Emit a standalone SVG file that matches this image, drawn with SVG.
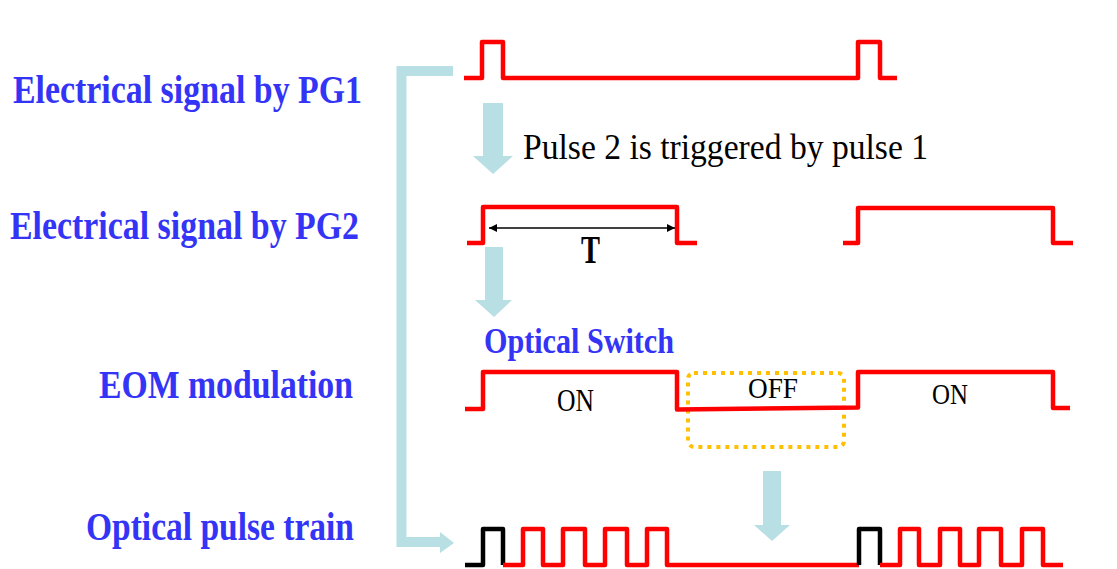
<svg xmlns="http://www.w3.org/2000/svg" width="1117" height="569" viewBox="0 0 1117 569">
<style>
.lbl{font-family:"Liberation Serif","Times New Roman",serif;font-weight:bold;fill:#3434f6;font-size:39px}
.txt{font-family:"Liberation Serif","Times New Roman",serif;fill:#000}
.sig{fill:none;stroke:#ff0000;stroke-width:4.5;stroke-linejoin:round;stroke-linecap:butt}
.blk{fill:none;stroke:#000;stroke-width:4.5;stroke-linejoin:round}
.flow{fill:#b8dfe3}
</style>
<defs>
<marker id="ah" viewBox="0 0 10 10" refX="10" refY="5" markerWidth="10" markerHeight="8" markerUnits="userSpaceOnUse" orient="auto-start-reverse">
<path d="M0,0 L10,5 L0,10 Z" fill="#000"/>
</marker>
</defs>
<rect width="1117" height="569" fill="#fff"/>

<g id="label-pg1"><text class="lbl" x="13" y="103" textLength="349" lengthAdjust="spacingAndGlyphs">Electrical signal by PG1</text></g>
<g id="label-pg2"><text class="lbl" x="10" y="239" textLength="349" lengthAdjust="spacingAndGlyphs">Electrical signal by PG2</text></g>
<g id="label-eom"><text class="lbl" x="99" y="398" textLength="254" lengthAdjust="spacingAndGlyphs">EOM modulation</text></g>
<g id="label-optical"><text class="lbl" x="86" y="540" textLength="268" lengthAdjust="spacingAndGlyphs">Optical pulse train</text></g>

<g id="pg1-signal">
<path class="sig" d="M464,78 H482 V42 H503 V78 H858 V42 H880 V78 H897"/>
</g>
<g id="trigger-note">
<text class="txt" x="523" y="159" font-size="36" textLength="405" lengthAdjust="spacingAndGlyphs">Pulse 2 is triggered by pulse 1</text>
</g>

<g id="pg2-signal">
<path class="sig" d="M467,243 H483 V207 H677 V243 H697"/>
<path class="sig" d="M843,243 H858 V208 H1053 V243 H1073"/>
<line x1="489" y1="228" x2="675" y2="228" stroke="#000" stroke-width="1.6" marker-start="url(#ah)" marker-end="url(#ah)"/>
<text class="txt" x="581" y="263" font-size="39" font-weight="bold" textLength="19" lengthAdjust="spacingAndGlyphs">T</text>
</g>

<g id="eom-signal">
<text class="lbl" x="484" y="353" style="font-size:35px" textLength="190" lengthAdjust="spacingAndGlyphs">Optical Switch</text>
<rect x="688" y="373" width="156" height="74" rx="6" fill="none" stroke="#ffc000" stroke-width="4" stroke-dasharray="4 5"/>
<path class="sig" d="M465,409 H483 V372 H677 V409.5 L858,407.5 V372 H1053 V408 H1070"/>
<text class="txt" x="557" y="411" font-size="31" textLength="37" lengthAdjust="spacingAndGlyphs">ON</text>
<text class="txt" x="748" y="398" font-size="30" textLength="50" lengthAdjust="spacingAndGlyphs">OFF</text>
<text class="txt" x="932" y="404" font-size="29" textLength="36" lengthAdjust="spacingAndGlyphs">ON</text>
</g>

<g id="pulse-train">
<path class="blk" d="M465,565 H483 V529 H503 V565"/>
<path class="sig" d="M503,565 H523 V529 H543 V565 H563 V529 H585 V565 H605 V529 H627 V565 H647 V529 H667 V565 H859"/>
<path class="blk" d="M859,565 V529 H880 V565"/>
<path class="sig" d="M880,565 H900 V529 H919 V565 H940 V529 H960 V565 H979 V529 H1001 V565 H1022 V529 H1043 V565 H1063"/>
</g>

<g id="connectors">
<polyline points="453,71 401.5,71 401.5,542 441,542" fill="none" stroke="#b8dfe3" stroke-width="10"/>
<polygon class="flow" points="440,532 454,543 440,553"/>
<polygon class="flow" points="483,103 503,103 503,156 513,156 493,174 473,156 483,156"/>
<polygon class="flow" points="485,247 503,247 503,300 512,300 494,317 475,300 485,300"/>
<polygon class="flow" points="763,471 781,471 781,525 790,525 772,541 754,525 763,525"/>
</g>
</svg>
